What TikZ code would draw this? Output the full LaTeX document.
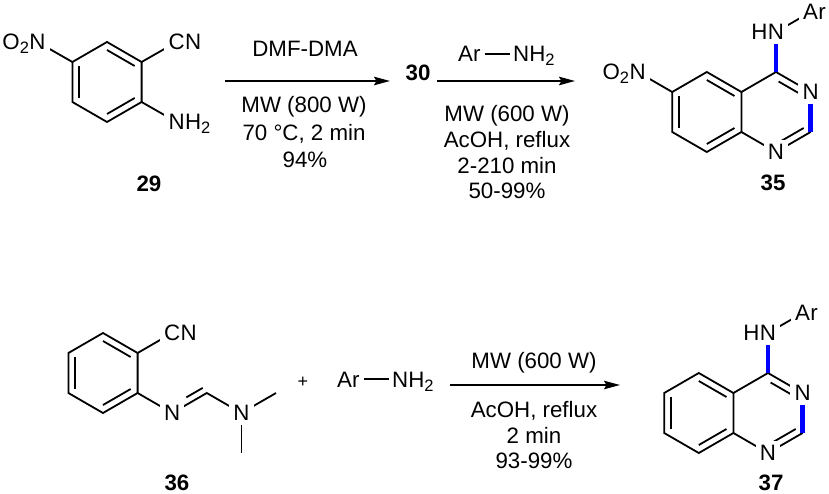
\documentclass[tikz,border=0pt]{standalone}
\usepackage{fontspec}
\setmainfont{Liberation Sans}
\usetikzlibrary{calc,arrows.meta}
\definecolor{hlblue}{RGB}{0,0,255}
\newcommand{\subtwo}{\raisebox{-4pt}{\fontsize{16.5}{16.5}\selectfont 2}}
\begin{document}
\begin{tikzpicture}[x=1pt,y=-1pt,
  bond/.style={line width=1.8pt},
  hl/.style={line width=4.5pt, draw=hlblue},
  txt/.style={font=\fontsize{22.3}{26}\selectfont, inner sep=0pt},
  atm/.style={font=\fontsize{22.3}{26}\selectfont, inner sep=4.2pt, fill=white},
  cmpd/.style={font=\fontsize{22.3}{26}\selectfont\bfseries, inner sep=0pt, anchor=base},
  rxn/.style={line width=1.8pt, -{Stealth[length=16pt,width=8.5pt,inset=2.5pt]}},
]
\useasboundingbox (0,0) rectangle (829,494);

% ---------------- compound 29 ----------------
\coordinate (a0) at (107,82);
\coordinate (a1) at (107,42);
\coordinate (a2) at (141.6,62);
\coordinate (a3) at (141.6,102);
\coordinate (a4) at (107,122);
\coordinate (a5) at (72.4,102);
\coordinate (a6) at (72.4,62);
\coordinate (acn) at (176.6,42);
\coordinate (anh) at (176.6,122);
\coordinate (ano) at (37.4,42);
\draw[bond] (a1)--(a2)--(a3)--(a4)--(a5)--(a6)--cycle;
\draw[bond] ($(a1)!0.2!(a0)$) -- ($(a2)!0.2!(a0)$);
\draw[bond] ($(a3)!0.2!(a0)$) -- ($(a4)!0.2!(a0)$);
\draw[bond] ($(a5)!0.2!(a0)$) -- ($(a6)!0.2!(a0)$);
\draw[bond] (a2)--(acn);
\draw[bond] (a3)--(anh);
\draw[bond] (a6)--(ano);
\node[atm] (lacn) at (acn) {C};
\node[txt, anchor=base west] (lacn2) at ([xshift=-4.2pt]lacn.base east) {N};
\node[atm] (lanh) at (anh) {N};
\node[txt, anchor=base west] (lanh2) at ([xshift=-4.2pt]lanh.base east) {H\subtwo};
\node[atm] (lano) at (ano) {N};
\node[txt, anchor=base east] (lano2) at ([xshift=4.2pt]lano.base west) {O\subtwo};
\node[cmpd] (n29) at (149,192) {29};

% ---------------- step 1 ----------------
\coordinate (r1s) at (225,81);
\coordinate (r1e) at (390,81);
\draw[rxn] (r1s) -- (r1e);
\node[txt, anchor=base] (t11) at (305,57) {DMF-DMA};
\node[txt, anchor=base] (t12) at (304,113) {MW (800 W)};
\node[txt, anchor=base] (t13) at (304,140.5) {70 °C, 2 min};
\node[txt, anchor=base] (t14) at (305,167.5) {94\%};
\node[cmpd] (n30) at (418,81) {30};

% ---------------- step 2 ----------------
\coordinate (r2s) at (437,81);
\coordinate (r2e) at (575,81);
\draw[rxn] (r2s) -- (r2e);
\node[txt, anchor=base west] (ar1) at (458,62) {Ar};
\node[txt, anchor=base west] (nh1) at (513,62) {NH\subtwo};
\draw[bond] ([xshift=4pt]ar1.east) -- ([xshift=-3.5pt]ar1.east -| nh1.west);
\node[txt, anchor=base] (t21) at (507,121.7) {MW (600 W)};
\node[txt, anchor=base] (t22) at (507,147.7) {AcOH, reflux};
\node[txt, anchor=base] (t23) at (507,173.3) {2-210 min};
\node[txt, anchor=base] (t24) at (507,198.3) {50-99\%};

% ---------------- compound 35 ----------------
\coordinate (bc) at (706.8,112);
\coordinate (pc) at (776,112);
\coordinate (b5) at (706.8,72);
\coordinate (b6) at (672.2,92);
\coordinate (b7) at (672.2,132);
\coordinate (b8) at (706.8,152);
\coordinate (b8a) at (741.4,132);
\coordinate (b4a) at (741.4,92);
\coordinate (b4) at (776,72);
\coordinate (bn3) at (810.6,92);
\coordinate (b2) at (810.6,132);
\coordinate (bn1) at (776,152);
\coordinate (bnh) at (776,32);
\coordinate (bar) at (810.6,12);
\coordinate (bno) at (637.6,72);
\draw[bond] (b4a)--(b5)--(b6)--(b7)--(b8)--(b8a)--cycle;
\draw[bond] ($(b5)!0.2!(bc)$) -- ($(b4a)!0.2!(bc)$);
\draw[bond] ($(b6)!0.2!(bc)$) -- ($(b7)!0.2!(bc)$);
\draw[bond] ($(b8)!0.2!(bc)$) -- ($(b8a)!0.2!(bc)$);
\draw[bond] (b4a)--(b4)--(bn3);
\draw[bond] (b2)--(bn1)--(b8a);
\draw[bond, shorten <=3pt] ($(b4)!0.2!(pc)$) -- ($(bn3)!0.2!(pc)$);
\draw[bond] ($(b2)!0.2!(pc)$) -- ($(bn1)!0.2!(pc)$);
\draw[hl] (bn3)--(b2);
\draw[hl] (b4)--(bnh);
\draw[bond] (b6)--(bno);
\draw[bond] (bnh)--(bar);
\node[atm] (lbn3) at (bn3) {N};
\node[atm] (lbn1) at (bn1) {N};
\node[atm] (lbnh) at (bnh) {N};
\node[txt, anchor=base east] (lbnh2) at ([xshift=4.2pt]lbnh.base west) {H};
\node[atm] (lbar) at (bar) {A};
\node[txt, anchor=base west] (lbar2) at ([xshift=-4.2pt]lbar.base east) {r};
\node[atm] (lbno) at (bno) {N};
\node[txt, anchor=base east] (lbno2) at ([xshift=4.2pt]lbno.base west) {O\subtwo};
\node[cmpd] (n35) at (773,191) {35};

% ---------------- compound 36 ----------------
\coordinate (d0) at (103,373);
\coordinate (d1) at (103,333);
\coordinate (d2) at (137.6,353);
\coordinate (d3) at (137.6,393);
\coordinate (d4) at (103,413);
\coordinate (d5) at (68.4,393);
\coordinate (d6) at (68.4,353);
\coordinate (dcn) at (172.2,333);
\coordinate (dn1) at (172.2,413);
\coordinate (dch) at (206.8,393);
\coordinate (dn2) at (241.4,413);
\coordinate (dme1) at (276,393);
\coordinate (dme2) at (241.4,453);
\coordinate (dd1) at (186.3,397.4);
\coordinate (dd2) at (202.7,387.9);
\draw[bond] (d1)--(d2)--(d3)--(d4)--(d5)--(d6)--cycle;
\draw[bond] ($(d1)!0.2!(d0)$) -- ($(d2)!0.2!(d0)$);
\draw[bond] ($(d3)!0.2!(d0)$) -- ($(d4)!0.2!(d0)$);
\draw[bond] ($(d5)!0.2!(d0)$) -- ($(d6)!0.2!(d0)$);
\draw[bond] (d2)--(dcn);
\draw[bond] (d3)--(dn1)--(dch)--(dn2)--(dme1);
\draw[bond] (dn2)--(dme2);
\draw[bond] (dd1)--(dd2);
\node[atm] (ldcn) at (dcn) {C};
\node[txt, anchor=base west] (ldcn2) at ([xshift=-4.2pt]ldcn.base east) {N};
\node[atm] (ldn1) at (dn1) {N};
\node[atm] (ldn2) at (dn2) {N};
\node[cmpd] (n36) at (177,490) {36};

% ---------------- step 3 ----------------
\node[font=\fontsize{18}{18}\selectfont, inner sep=0pt, anchor=base] (plus) at (303,387.5) {+};
\node[txt, anchor=base west] (ar2) at (337,387) {Ar};
\node[txt, anchor=base west] (nh2) at (392,387) {NH\subtwo};
\draw[bond] ([xshift=4pt]ar2.east) -- ([xshift=-3.5pt]ar2.east -| nh2.west);
\coordinate (r3s) at (450,385);
\coordinate (r3e) at (620,385);
\draw[rxn] (r3s) -- (r3e);
\node[txt, anchor=base] (t31) at (534,368) {MW (600 W)};
\node[txt, anchor=base] (t32) at (534,417) {AcOH, reflux};
\node[txt, anchor=base] (t33) at (534,443) {2 min};
\node[txt, anchor=base] (t34) at (534,468) {93-99\%};

% ---------------- compound 37 ----------------
\coordinate (ebc) at (698.8,413);
\coordinate (epc) at (768,413);
\coordinate (e5) at (698.8,373);
\coordinate (e6) at (664.2,393);
\coordinate (e7) at (664.2,433);
\coordinate (e8) at (698.8,453);
\coordinate (e8a) at (733.4,433);
\coordinate (e4a) at (733.4,393);
\coordinate (e4) at (768,373);
\coordinate (en3) at (802.6,393);
\coordinate (e2) at (802.6,433);
\coordinate (en1) at (768,453);
\coordinate (enh) at (768,333);
\coordinate (ear) at (802.6,313);
\draw[bond] (e4a)--(e5)--(e6)--(e7)--(e8)--(e8a)--cycle;
\draw[bond] ($(e5)!0.2!(ebc)$) -- ($(e4a)!0.2!(ebc)$);
\draw[bond] ($(e6)!0.2!(ebc)$) -- ($(e7)!0.2!(ebc)$);
\draw[bond] ($(e8)!0.2!(ebc)$) -- ($(e8a)!0.2!(ebc)$);
\draw[bond] (e4a)--(e4)--(en3);
\draw[bond] (e2)--(en1)--(e8a);
\draw[bond, shorten <=3pt] ($(e4)!0.2!(epc)$) -- ($(en3)!0.2!(epc)$);
\draw[bond] ($(e2)!0.2!(epc)$) -- ($(en1)!0.2!(epc)$);
\draw[hl] (en3)--(e2);
\draw[hl] (e4)--(enh);
\draw[bond] (enh)--(ear);
\node[atm] (len3) at (en3) {N};
\node[atm] (len1) at (en1) {N};
\node[atm] (lenh) at (enh) {N};
\node[txt, anchor=base east] (lenh2) at ([xshift=4.2pt]lenh.base west) {H};
\node[atm] (lear) at (ear) {A};
\node[txt, anchor=base west] (lear2) at ([xshift=-4.2pt]lear.base east) {r};
\node[cmpd] (n37) at (771,490) {37};
\end{tikzpicture}
\end{document}
